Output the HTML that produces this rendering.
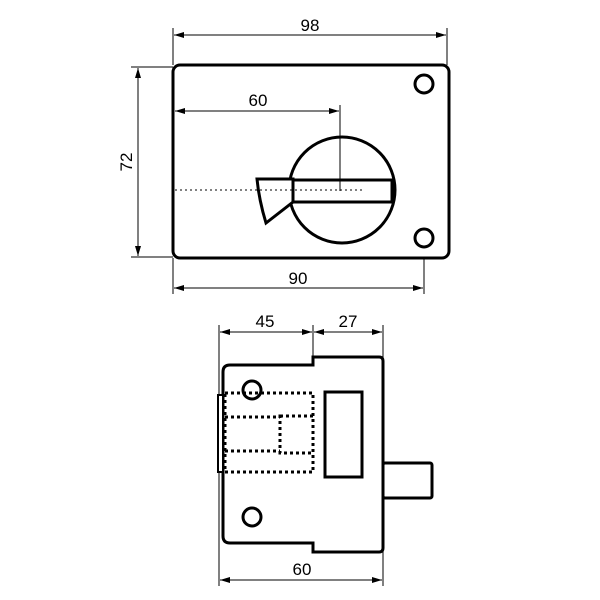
<!DOCTYPE html>
<html><head><style>body{margin:0;background:#fff}svg{display:block}text{font-family:"Liberation Sans",sans-serif;font-size:17px;fill:#000;text-anchor:middle}</style></head><body>
<svg width="600" height="600" viewBox="0 0 600 600">
<defs><marker id="a" markerWidth="10" markerHeight="6" refX="10" refY="3" orient="auto-start-reverse" markerUnits="userSpaceOnUse"><path d="M0,0L10,3L0,6z" fill="#000"/></marker></defs>
<g stroke="#000" stroke-width="1" fill="none">
<line x1="173" y1="28" x2="173" y2="65"/><line x1="447" y1="28" x2="447" y2="65"/>
<line x1="174" y1="35" x2="446" y2="35" marker-start="url(#a)" marker-end="url(#a)"/>
<line x1="131" y1="67" x2="173" y2="67"/><line x1="131" y1="257" x2="173" y2="257"/>
<line x1="138" y1="68" x2="138" y2="256" marker-start="url(#a)" marker-end="url(#a)"/>
<line x1="173" y1="258" x2="173" y2="294"/><line x1="424" y1="238" x2="424" y2="294"/>
<line x1="174" y1="288" x2="423" y2="288" marker-start="url(#a)" marker-end="url(#a)"/>
<line x1="219" y1="325" x2="219" y2="586"/><line x1="313" y1="325" x2="313" y2="357"/><line x1="383" y1="325" x2="383" y2="586"/>
<line x1="220" y1="332" x2="312" y2="332" marker-start="url(#a)" marker-end="url(#a)"/>
<line x1="314" y1="332" x2="382" y2="332" marker-start="url(#a)" marker-end="url(#a)"/>
<line x1="220" y1="580" x2="382" y2="580" marker-start="url(#a)" marker-end="url(#a)"/>
</g>
<g stroke="#000" stroke-width="3" fill="#fff">
<rect x="173" y="65" width="276" height="193" rx="7"/>
<circle cx="424" cy="84" r="9"/><circle cx="424" cy="238" r="9"/>
<circle cx="342" cy="190" r="53"/>
<rect x="293" y="180" width="99" height="22"/>
<path d="M257,179L293,179L293,202L266,223Q259,200 257,179z"/>
<path d="M223,372Q223,365 230,365L313,365L313,357L379,357Q383,357 383,361L383,548Q383,552 379,552L313,552L313,543L230,543Q223,543 223,536z"/>
<rect x="383" y="463" width="49" height="35" rx="2"/>
<rect x="325" y="392" width="37" height="85" fill="none"/>
<circle cx="252" cy="390" r="9"/><circle cx="252" cy="517" r="9"/>
<rect x="218" y="395" width="5" height="77" stroke-width="2"/>
</g>
<g stroke="#000" stroke-width="1" fill="none">
<line x1="175" y1="111" x2="339" y2="111" marker-start="url(#a)" marker-end="url(#a)"/>
<line x1="340" y1="105" x2="340" y2="191"/>
<line x1="175" y1="190" x2="365" y2="190" stroke-dasharray="2,3"/>
</g>
<g stroke="#000" stroke-width="3" fill="none" stroke-dasharray="3,3">
<rect x="225" y="393" width="88" height="79"/>
<line x1="225" y1="417" x2="280" y2="417"/><line x1="225" y1="451" x2="280" y2="451"/>
<rect x="280" y="416" width="33" height="37"/>
</g>
<text x="310" y="31">98</text><text x="258" y="106">60</text><text x="298" y="284">90</text>
<text x="265" y="327">45</text><text x="348" y="327">27</text><text x="302" y="575">60</text>
<text x="0" y="0" transform="translate(132,162) rotate(-90)">72</text>
</svg>
</body></html>
